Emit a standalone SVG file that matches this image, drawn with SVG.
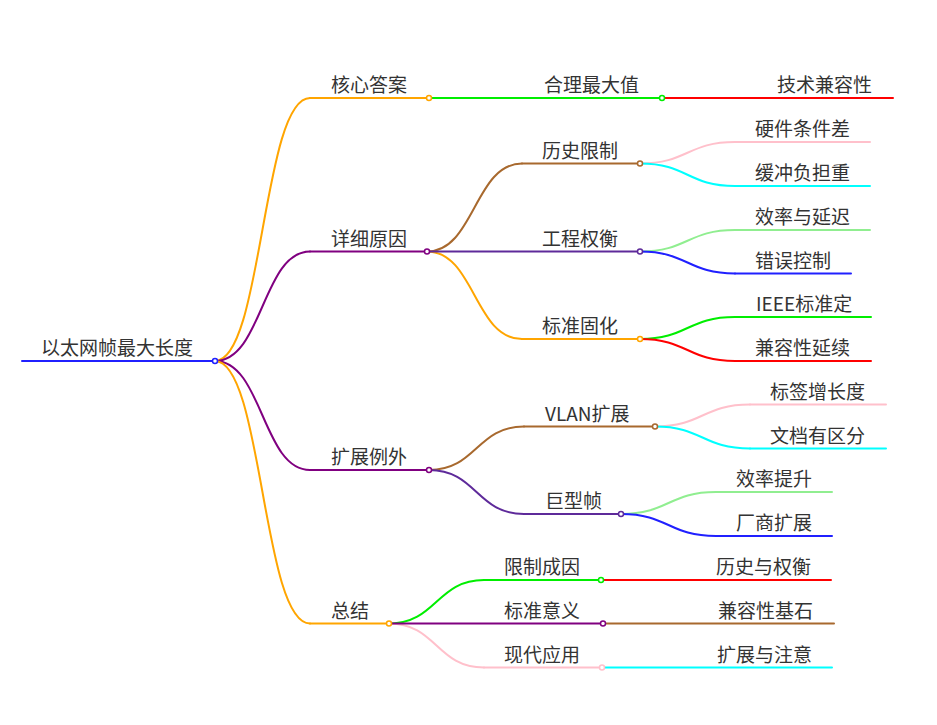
<svg xmlns="http://www.w3.org/2000/svg" width="937" height="725" viewBox="0 0 937 725">
<style>
text{font-family:"Noto Sans CJK SC","Noto Sans",sans-serif;font-size:19px;fill:#333}
path,line{fill:none;stroke-width:2;stroke-linecap:round}
circle{fill:#fff;stroke-width:1.5}
.bl{stroke:#2020ff}.or{stroke:#ffa500}.pu{stroke:#800080}.gr{stroke:#00ee00}.rd{stroke:#ff0000}
.br{stroke:#a8692e}.in{stroke:#5e2a9a}.pk{stroke:#ffc0cb}.cy{stroke:#00ffff}.lg{stroke:#90ee90}
</style>
<rect width="937" height="725" fill="#fff"/>
<g id="connectors">
<path class="or" d="M215 361 C262.5 361 262.5 98 310 98"/>
<path class="pu" d="M215 361 C262.5 361 262.5 251.5 310 251.5"/>
<path class="pu" d="M215 361 C262.5 361 262.5 470 310 470"/>
<path class="or" d="M215 361 C262.5 361 262.5 623.5 310 623.5"/>
<path class="br" d="M427 251.5 C474.5 251.5 474.5 163.5 522 163.5"/>
<path class="or" d="M427 251.5 C474.5 251.5 474.5 339 522 339"/>
<path class="br" d="M429 470 C476.5 470 476.5 426.5 524 426.5"/>
<path class="in" d="M429 470 C476.5 470 476.5 514 524 514"/>
<path class="gr" d="M389 623.5 C436.5 623.5 436.5 580 484 580"/>
<path class="pk" d="M389 623.5 C436.5 623.5 436.5 667.5 484 667.5"/>
<path class="pk" d="M640 163.5 C687.5 163.5 687.5 142 735 142"/>
<path class="cy" d="M640 163.5 C687.5 163.5 687.5 186 735 186"/>
<path class="lg" d="M640 251.5 C687.5 251.5 687.5 230 735 230"/>
<path class="bl" d="M640 251.5 C687.5 251.5 687.5 273.5 735 273.5"/>
<path class="gr" d="M640 339 C687.5 339 687.5 317 735 317"/>
<path class="rd" d="M640 339 C687.5 339 687.5 361 735 361"/>
<path class="pk" d="M655 426.5 C702.5 426.5 702.5 404.5 750 404.5"/>
<path class="cy" d="M655 426.5 C702.5 426.5 702.5 448.5 750 448.5"/>
<path class="lg" d="M621 514 C668.5 514 668.5 492 716 492"/>
<path class="bl" d="M621 514 C668.5 514 668.5 536 716 536"/>
</g>
<g id="n-root"><line class="bl" x1="22" y1="361" x2="215" y2="361"/><text x="41" y="355">以太网帧最大长度</text></g>
<g id="n-hexin"><line class="or" x1="310" y1="98" x2="429" y2="98"/><text x="331" y="92">核心答案</text></g>
<g id="n-heli"><line class="gr" x1="429" y1="98" x2="662" y2="98"/><text x="544" y="92">合理最大值</text></g>
<g id="n-jishu"><line class="rd" x1="662" y1="98" x2="893" y2="98"/><text x="777" y="92">技术兼容性</text></g>
<g id="n-xiangxi"><line class="pu" x1="310" y1="251.5" x2="427" y2="251.5"/><text x="331" y="245.5">详细原因</text></g>
<g id="n-lishi"><line class="br" x1="522" y1="163.5" x2="640" y2="163.5"/><text x="542" y="157.5">历史限制</text></g>
<g id="n-gongcheng"><line class="in" x1="427" y1="251.5" x2="640" y2="251.5"/><text x="542" y="245.5">工程权衡</text></g>
<g id="n-biaozhun"><line class="or" x1="522" y1="339" x2="640" y2="339"/><text x="542" y="333">标准固化</text></g>
<g id="n-yingjian"><line class="pk" x1="735" y1="142" x2="870" y2="142"/><text x="755" y="136">硬件条件差</text></g>
<g id="n-huanchong"><line class="cy" x1="735" y1="186" x2="870" y2="186"/><text x="755" y="180">缓冲负担重</text></g>
<g id="n-xiaolv"><line class="lg" x1="735" y1="230" x2="870" y2="230"/><text x="755" y="224">效率与延迟</text></g>
<g id="n-cuowu"><line class="bl" x1="735" y1="273.5" x2="851" y2="273.5"/><text x="755" y="267.5">错误控制</text></g>
<g id="n-ieee"><line class="gr" x1="735" y1="317" x2="871" y2="317"/><text x="756" y="311">IEEE标准定</text></g>
<g id="n-jianrong"><line class="rd" x1="735" y1="361" x2="871" y2="361"/><text x="755" y="355">兼容性延续</text></g>
<g id="n-kuozhan"><line class="pu" x1="310" y1="470" x2="429" y2="470"/><text x="331" y="464">扩展例外</text></g>
<g id="n-vlan"><line class="br" x1="524" y1="426.5" x2="655" y2="426.5"/><text x="545" y="420.5">VLAN扩展</text></g>
<g id="n-juxing"><line class="in" x1="524" y1="514" x2="621" y2="514"/><text x="545" y="508">巨型帧</text></g>
<g id="n-biaoqian"><line class="pk" x1="750" y1="404.5" x2="886" y2="404.5"/><text x="770" y="398.5">标签增长度</text></g>
<g id="n-wendang"><line class="cy" x1="750" y1="448.5" x2="886" y2="448.5"/><text x="770" y="442.5">文档有区分</text></g>
<g id="n-tisheng"><line class="lg" x1="716" y1="492" x2="832" y2="492"/><text x="736" y="486">效率提升</text></g>
<g id="n-changshang"><line class="bl" x1="716" y1="536" x2="832" y2="536"/><text x="736" y="530">厂商扩展</text></g>
<g id="n-zongjie"><line class="or" x1="310" y1="623.5" x2="389" y2="623.5"/><text x="331" y="617.5">总结</text></g>
<g id="n-xianzhi"><line class="gr" x1="484" y1="580" x2="601" y2="580"/><text x="504" y="574">限制成因</text></g>
<g id="n-yiyi"><line class="pu" x1="389" y1="623.5" x2="603" y2="623.5"/><text x="504" y="617.5">标准意义</text></g>
<g id="n-xiandai"><line class="pk" x1="484" y1="667.5" x2="602" y2="667.5"/><text x="504" y="661.5">现代应用</text></g>
<g id="n-lishiyu"><line class="rd" x1="601" y1="580" x2="831" y2="580"/><text x="716" y="574">历史与权衡</text></g>
<g id="n-jishi"><line class="br" x1="603" y1="623.5" x2="834" y2="623.5"/><text x="718" y="617.5">兼容性基石</text></g>
<g id="n-zhuyi"><line class="cy" x1="602" y1="667.5" x2="832" y2="667.5"/><text x="717" y="661.5">扩展与注意</text></g>
<g id="dots">
<circle class="bl" cx="215" cy="361" r="2.5"/>
<circle class="or" cx="429" cy="98" r="2.5"/>
<circle class="gr" cx="662" cy="98" r="2.5"/>
<circle class="pu" cx="427" cy="251.5" r="2.5"/>
<circle class="br" cx="640" cy="163.5" r="2.5"/>
<circle class="in" cx="640" cy="251.5" r="2.5"/>
<circle class="or" cx="640" cy="339" r="2.5"/>
<circle class="pu" cx="429" cy="470" r="2.5"/>
<circle class="br" cx="655" cy="426.5" r="2.5"/>
<circle class="in" cx="621" cy="514" r="2.5"/>
<circle class="or" cx="389" cy="623.5" r="2.5"/>
<circle class="gr" cx="601" cy="580" r="2.5"/>
<circle class="pu" cx="603" cy="623.5" r="2.5"/>
<circle class="pk" cx="602" cy="667.5" r="2.5"/>
</g>
</svg>
